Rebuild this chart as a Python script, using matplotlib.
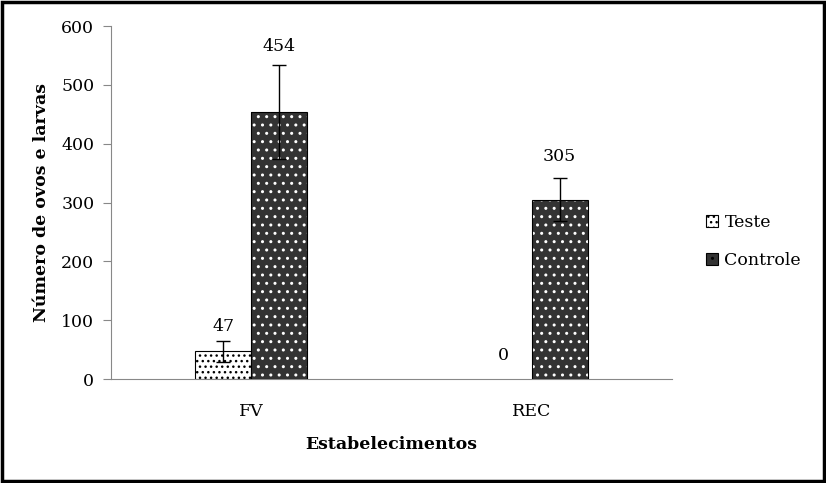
import matplotlib.pyplot as plt
import matplotlib.patches as mpatches
import numpy as np

categorias = ['FV', 'REC']
series = ['Teste', 'Controle']
teste = [47, 0]
controle = [454, 305]
erro_teste = [18, 0]
erro_controle = [80, 37]
yticks = [0, 100, 200, 300, 400, 500, 600]

plt.rcParams['font.family'] = ['DejaVu Serif']
plt.rcParams['hatch.linewidth'] = 1.0

fig = plt.figure(figsize=(8.26, 4.83), dpi=100)
ax = fig.add_axes([0.1344, 0.2153, 0.679, 0.7308])

x = np.arange(len(categorias))
w = 0.2
fs = 12.5

# Teste: branco com pontos pretos (barra de altura zero sem contorno)
for xi, v in zip(x - w / 2, teste):
    if v > 0:
        ax.bar(xi, v, w, facecolor='white', edgecolor='black',
               hatch='...', linewidth=0.8, zorder=2)
# Controle: escuro com pontos brancos
ax.bar(x + w / 2, controle, w, facecolor='#333333', edgecolor='white',
       hatch='..', linewidth=0, zorder=2)
ax.bar(x + w / 2, controle, w, facecolor='none', edgecolor='black',
       linewidth=0.8, zorder=3)

for xi, v, e in zip(x - w / 2, teste, erro_teste):
    if e > 0:
        ax.errorbar(xi, v, yerr=e, fmt='none', ecolor='black',
                    elinewidth=1, capsize=5, zorder=4)
ax.errorbar(x + w / 2, controle, yerr=erro_controle, fmt='none',
            ecolor='black', elinewidth=1, capsize=5, zorder=4)

for xi, v, e in zip(x - w / 2, teste, erro_teste):
    ax.annotate(str(v), (xi, v + e), xytext=(0, 4 if v else 11),
                textcoords='offset points', ha='center', va='bottom', fontsize=fs)
for xi, v, e in zip(x + w / 2, controle, erro_controle):
    ax.annotate(str(v), (xi, v + e), xytext=(0, 9 if v < 400 else 7),
                textcoords='offset points', ha='center', va='bottom', fontsize=fs)

ax.set_xlim(-0.5, 1.5)
ax.set_ylim(0, 600)
ax.set_yticks(yticks)
ax.set_xticks(x)
ax.set_xticklabels(categorias, fontsize=fs)
ax.tick_params(axis='x', length=0, pad=17)
ax.tick_params(axis='y', length=6, color='#888888', labelsize=fs, pad=6)
for s in ['top', 'right']:
    ax.spines[s].set_visible(False)
for s in ['left', 'bottom']:
    ax.spines[s].set_color('#888888')

ax.set_ylabel('Número de ovos e larvas', fontsize=fs, fontweight='bold', labelpad=8)
ax.set_xlabel('Estabelecimentos', fontsize=fs, fontweight='bold', labelpad=12)

handles = [
    mpatches.Patch(facecolor='white', edgecolor='black', hatch='...', linewidth=0.8),
    mpatches.Patch(facecolor='#333333', edgecolor='black', hatch='..', linewidth=0.8),
]
fig.legend(handles, series, loc='center left', bbox_to_anchor=(0.836, 0.50),
           frameon=False, fontsize=fs, handlelength=0.7, handleheight=0.7,
           handletextpad=0.35, labelspacing=1.2)

fig.patches.append(mpatches.Rectangle((0.002, 0.004), 0.996, 0.992,
                                      transform=fig.transFigure, fill=False,
                                      edgecolor='black', linewidth=2.5))

fig.savefig('out.png', dpi=100)
